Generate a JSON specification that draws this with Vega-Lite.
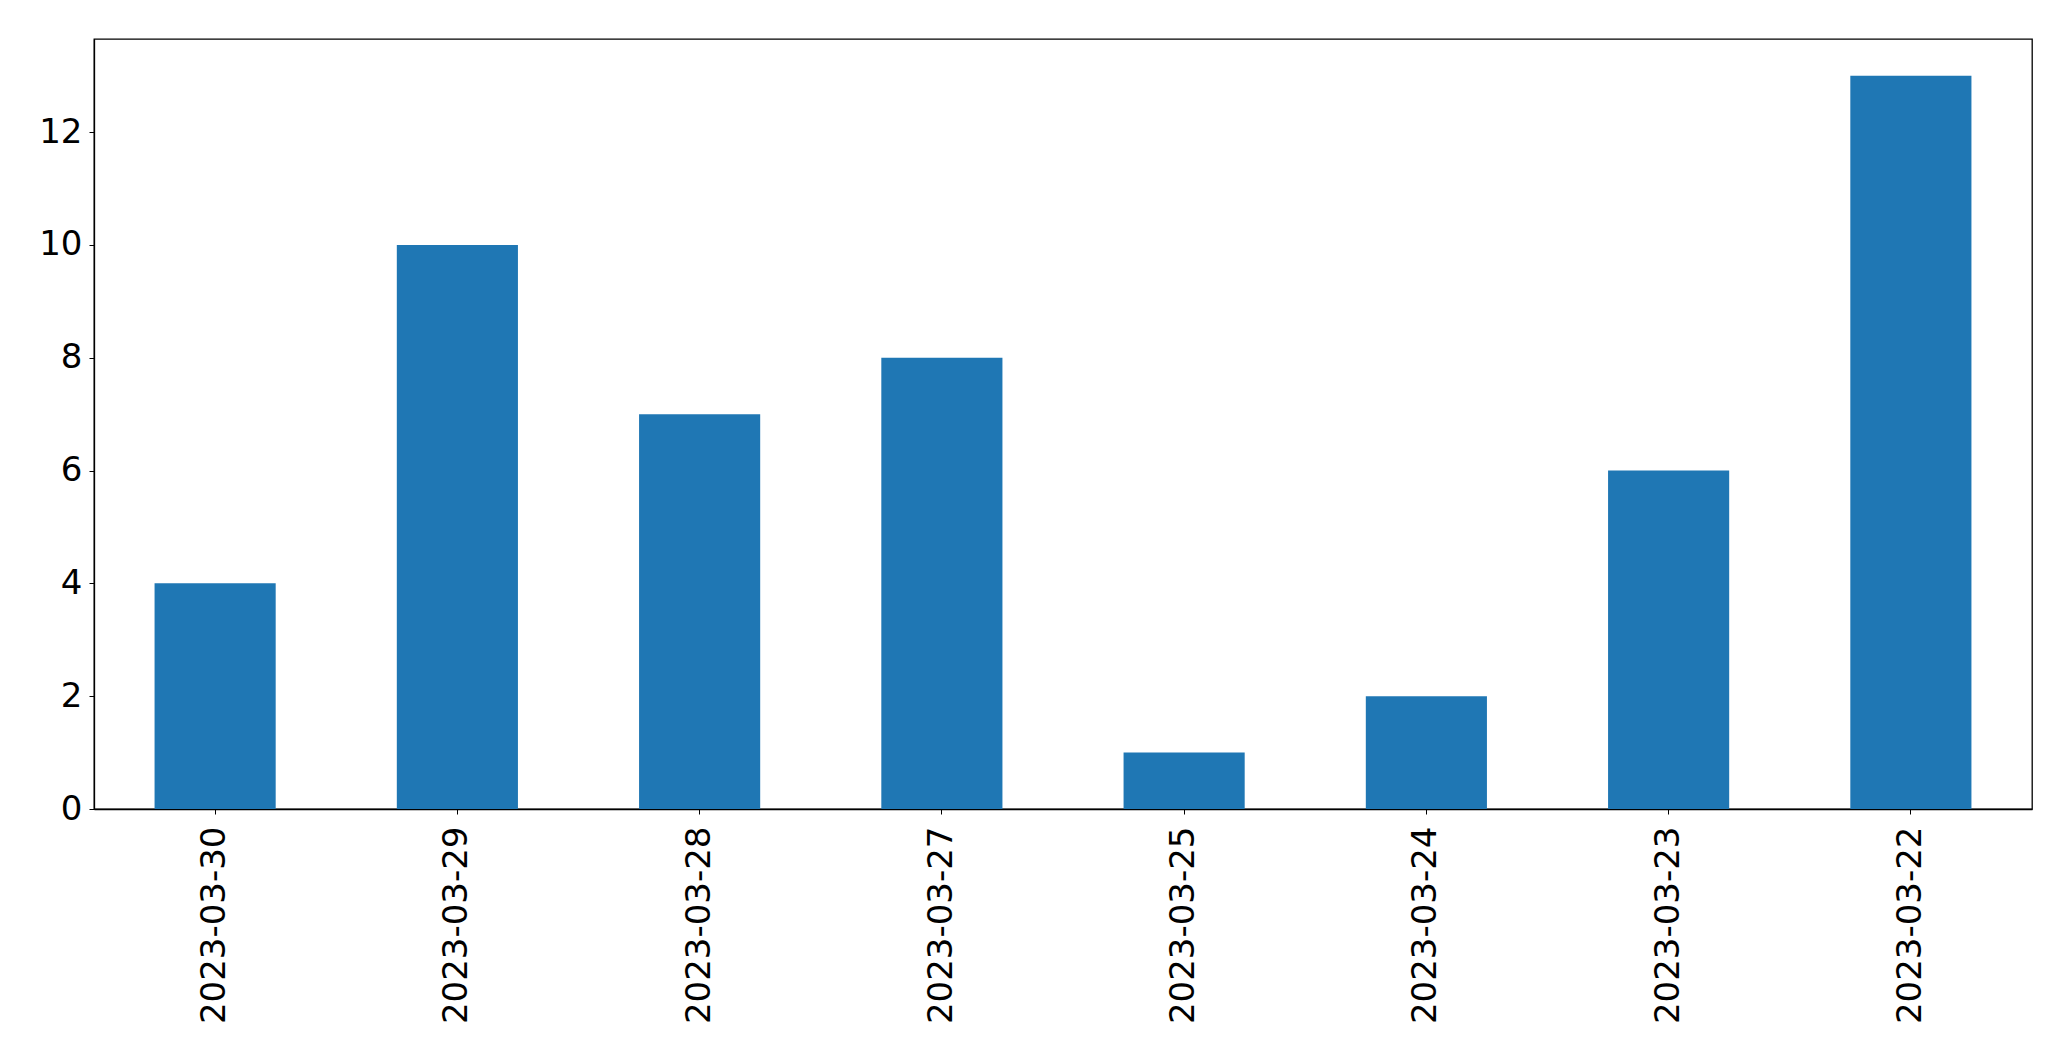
{
  "$schema": "https://vega.github.io/schema/vega-lite/v6.json",
  "autosize": {"type": "none"},
  "padding": {"left": 94, "top": 39, "right": 39, "bottom": 252},
  "width": 1938,
  "height": 770,
  "background": "white",
  "data": {"values": [
    {"date": "2023-03-30", "count": 4},
    {"date": "2023-03-29", "count": 10},
    {"date": "2023-03-28", "count": 7},
    {"date": "2023-03-27", "count": 8},
    {"date": "2023-03-25", "count": 1},
    {"date": "2023-03-24", "count": 2},
    {"date": "2023-03-23", "count": 6},
    {"date": "2023-03-22", "count": 13}
  ]},
  "mark": {"type": "bar", "color": "#1f77b4"},
  "encoding": {
    "x": {
      "field": "date", "type": "nominal", "sort": null,
      "scale": {"paddingInner": 0.5, "paddingOuter": 0.25},
      "axis": {"title": null, "labelAngle": 270, "labelAlign": "right", "labelBaseline": "middle", "labelLimit": 0,
               "labelFont": "DejaVu Sans", "labelFontSize": 34, "labelColor": "black",
               "tickColor": "black", "tickSize": 5, "labelPadding": 12, "domainColor": "black", "domainWidth": 1.3}
    },
    "y": {
      "field": "count", "type": "quantitative",
      "scale": {"domain": [0, 13.65], "nice": false},
      "axis": {"title": null, "values": [0, 2, 4, 6, 8, 10, 12], "grid": false,
               "labelFont": "DejaVu Sans", "labelFontSize": 34, "labelColor": "black",
               "tickColor": "black", "tickSize": 5, "labelPadding": 7, "domainColor": "black", "domainWidth": 1.3}
    }
  },
  "config": {"view": {"stroke": "black", "strokeWidth": 1.3}}
}
